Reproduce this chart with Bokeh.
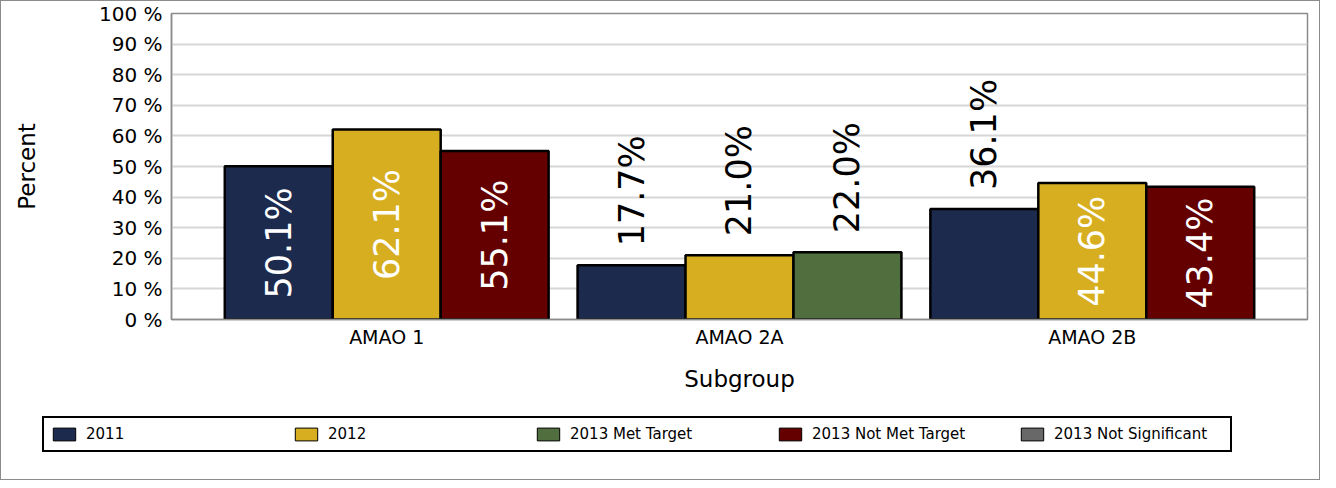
from bokeh.plotting import figure
from bokeh.layouts import column, row
from bokeh.models import (ColumnDataSource, FactorRange, LabelSet, Legend,
                          LegendItem, PrintfTickFormatter, Range1d)
from bokeh.core.properties import value
from bokeh.transform import dodge
from bokeh.embed import file_html
from bokeh.resources import INLINE

# ---------------- data ----------------
categories = ["AMAO 1", "AMAO 2A", "AMAO 2B"]
values_2011 = [50.1, 17.7, 36.1]
values_2012 = [62.1, 21.0, 44.6]
values_2013 = [55.1, 22.0, 43.4]
status_2013 = ["Not Met Target", "Met Target", "Not Met Target"]
legend_names = ["2011", "2012", "2013 Met Target", "2013 Not Met Target",
                "2013 Not Significant"]
y_ticks = [0, 10, 20, 30, 40, 50, 60, 70, 80, 90, 100]

# ---------------- style ----------------
FONT = "DejaVu Sans"
COLORS = {
    "2011": "#1c2a4d",
    "2012": "#d7ae20",
    "2013 Met Target": "#506e3e",
    "2013 Not Met Target": "#640000",
    "2013 Not Significant": "#686868",
}
W = 0.306
INSIDE_MIN = 40  # labels fit inside bars taller than this

p = figure(
    x_range=FactorRange(factors=categories, range_padding=0.11,
                        range_padding_units="absolute"),
    y_range=(0, 100),
    width=1318, height=401,
    output_backend="svg", toolbar_location=None,
    min_border_left=170, min_border_right=12,
    min_border_top=12, min_border_bottom=83,
)

c2013_met = [c for c, s in zip(categories, status_2013) if s == "Met Target"]
v2013_met = [v for v, s in zip(values_2013, status_2013) if s == "Met Target"]
c2013_not = [c for c, s in zip(categories, status_2013) if s == "Not Met Target"]
v2013_not = [v for v, s in zip(values_2013, status_2013) if s == "Not Met Target"]

series = [
    ("2011", -W, categories, values_2011),
    ("2012", 0.0, categories, values_2012),
    ("2013 Met Target", W, c2013_met, v2013_met),
    ("2013 Not Met Target", W, c2013_not, v2013_not),
]

for name, off, cats, vals in series:
    src = ColumnDataSource(dict(x=list(cats), top=list(vals)))
    p.vbar(x=dodge("x", off, range=p.x_range), top="top", width=W,
           source=src, fill_color=COLORS[name], line_color="black",
           line_width=2.5)

    ins = [(c, v) for c, v in zip(cats, vals) if v >= INSIDE_MIN]
    outs = [(c, v) for c, v in zip(cats, vals) if v < INSIDE_MIN]
    if ins:
        s_in = ColumnDataSource(dict(
            x=[c for c, v in ins], y=[v / 2 for c, v in ins],
            t=["%.1f%%" % v for c, v in ins]))
        p.add_layout(LabelSet(
            x=dodge("x", off, range=p.x_range), y="y", text="t", source=s_in,
            angle=90, angle_units="deg", text_align="center",
            text_baseline="middle", text_color="white",
            text_font=value(FONT), text_font_size=value("35px")))
    if outs:
        s_out = ColumnDataSource(dict(
            x=[c for c, v in outs], y=[v for c, v in outs],
            t=["%.1f%%" % v for c, v in outs]))
        p.add_layout(LabelSet(
            x=dodge("x", off, range=p.x_range), y="y", text="t", source=s_out,
            angle=90, angle_units="deg", text_align="left",
            text_baseline="middle", text_color="black", y_offset=19,
            text_font=value(FONT), text_font_size=value("35px")))

# ---------------- axes ----------------
p.yaxis.ticker = y_ticks
p.yaxis.formatter = PrintfTickFormatter(format="%d %%")
p.yaxis.axis_label = "Percent"
p.xaxis.axis_label = "Subgroup"
for ax in (p.xaxis, p.yaxis):
    ax.major_tick_line_color = None
    ax.minor_tick_line_color = None
    ax.major_tick_out = 0
    ax.major_tick_in = 0
    ax.axis_line_color = "#8c8c8c"
    ax.axis_line_width = 1.5
    ax.major_label_text_color = "black"
    ax.major_label_text_font = FONT
    ax.axis_label_text_font = FONT
    ax.axis_label_text_font_style = "normal"
    ax.axis_label_text_color = "black"
    ax.axis_label_text_font_size = "23px"
p.yaxis.major_label_text_font_size = "20px"
p.yaxis.major_label_standoff = 9
p.yaxis.axis_label_standoff = 56
p.xaxis.major_label_text_font_size = "19px"
p.xaxis.major_label_standoff = 6
p.xaxis.axis_label_standoff = 15

p.xgrid.grid_line_color = None
p.ygrid.grid_line_color = "#d6d6d6"
p.ygrid.grid_line_width = 2
p.outline_line_color = "#8c8c8c"
p.outline_line_width = 1.5

# ---------------- legend (separate strip below the chart) ----------------
lg = figure(width=1318, height=77, output_backend="svg", toolbar_location=None,
            x_range=Range1d(0, 1), y_range=Range1d(0, 1),
            x_axis_location=None, y_axis_location=None,
            min_border=0, outline_line_color=None)
lg.grid.visible = False
NAN = float("nan")
legend_renderers = {}
for name in legend_names:
    # legend proxy: one empty (NaN) row so the swatch is drawn, no visible bar
    legend_renderers[name] = lg.vbar(
        x=[NAN], top=[NAN], width=0.1, fill_color=COLORS[name],
        line_color="black", line_width=1)
items = [LegendItem(label=n, renderers=[legend_renderers[n]])
         for n in legend_names]
legend = Legend(
    items=items, orientation="horizontal", location=(41, 27),
    glyph_width=28, glyph_height=16, label_standoff=8, label_width=170,
    label_height=20, spacing=36, padding=6, margin=0,
    label_text_font=FONT, label_text_font_size="15px",
    label_text_color="black",
    border_line_color="black", border_line_width=2.5, border_line_alpha=1.0,
    background_fill_color="white", background_fill_alpha=1.0,
)
lg.add_layout(legend, "center")

page = column(p, row(lg), spacing=0, styles={"border": "1px solid #8c8c8c"})

open("out.html", "w").write(file_html(page, INLINE))
